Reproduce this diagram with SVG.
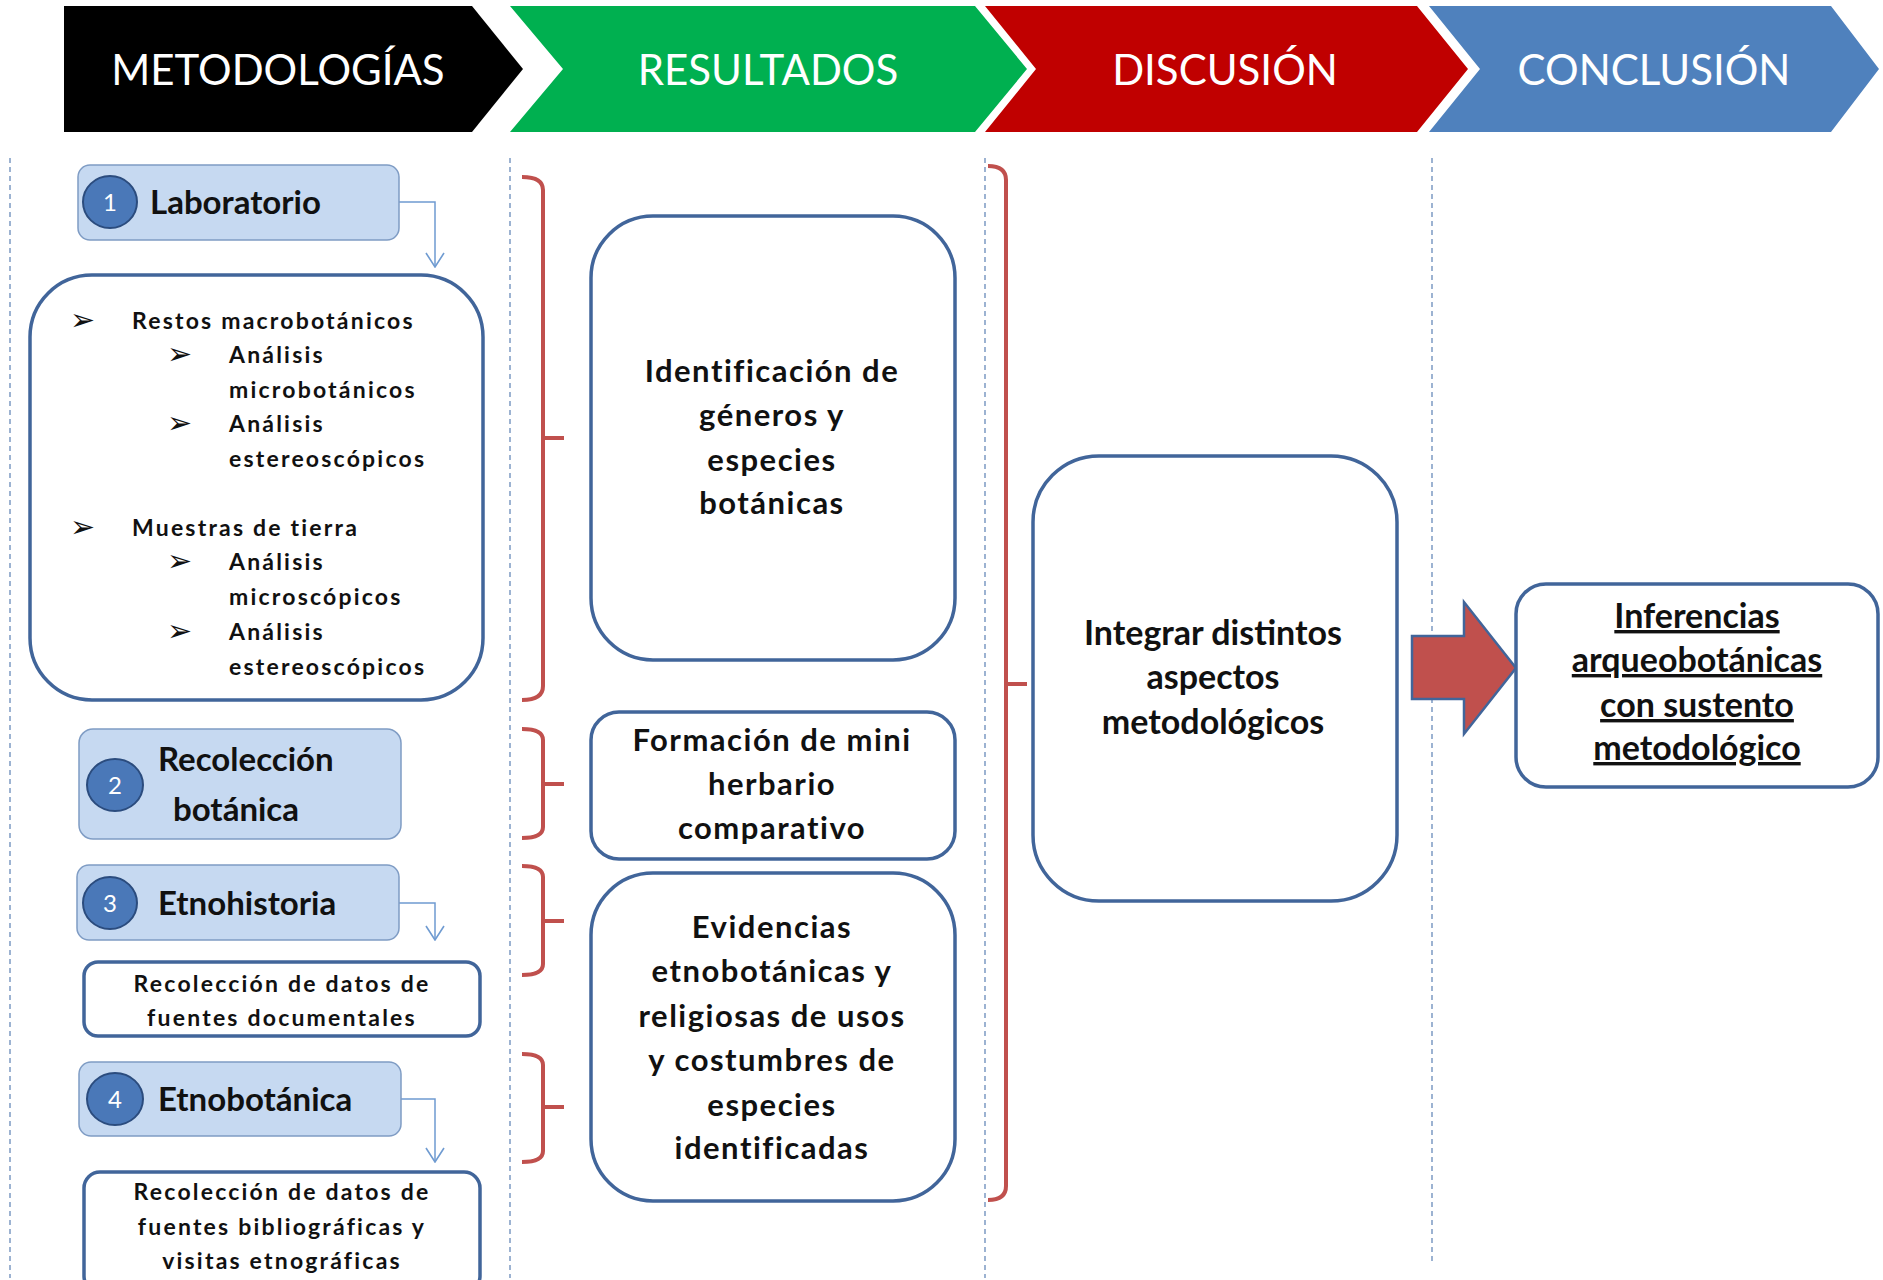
<svg xmlns="http://www.w3.org/2000/svg" width="1883" height="1280" viewBox="0 0 1883 1280">
<defs>
<style>
.hdr{font-family:Lato,"Open Sans",sans-serif;font-size:42px;fill:#fff;text-anchor:middle}
.num{font-family:Lato,sans-serif;font-size:24px;fill:#fff;text-anchor:middle}
.lbl{font-family:Lato,sans-serif;font-weight:700;font-size:33px;fill:#111}
.sm{font-family:Lato,sans-serif;font-weight:700;font-size:23px;fill:#111;letter-spacing:2.2px}
.smc{font-family:Lato,sans-serif;font-weight:700;font-size:23px;fill:#111;letter-spacing:2.2px;text-anchor:middle}
.mid{font-family:Lato,sans-serif;font-weight:700;font-size:31px;fill:#111;letter-spacing:1.5px;text-anchor:middle}
.dis{font-family:Lato,sans-serif;font-weight:700;font-size:34px;fill:#111;text-anchor:middle}
.con{font-family:Lato,sans-serif;font-weight:700;font-size:34px;fill:#111;text-anchor:middle;text-decoration:underline}
.bul{font-family:"DejaVu Sans",sans-serif;font-size:30px;fill:#111}
.pill{fill:#c6d9f1;stroke:#7f9cc4;stroke-width:1.5}
.circ{fill:#4a78b8;stroke:#2b4c7e;stroke-width:2}
.box{fill:#fff;stroke:#41659a;stroke-width:3.5}
.dash{stroke:#5b80b4;stroke-width:1.2;stroke-dasharray:5,4;fill:none}
.brk{fill:none;stroke:#c0504d;stroke-width:4}
.con-l{fill:none;stroke:#6f9bd1;stroke-width:1.5}
</style>
<marker id="open" viewBox="0 0 16 20" refX="15" refY="10" markerWidth="16" markerHeight="20" markerUnits="userSpaceOnUse" orient="auto">
<path d="M1,1 L15,10 L1,19" fill="none" stroke="#6f9bd1" stroke-width="1.6"/>
</marker>
</defs>
<rect width="1883" height="1280" fill="#fff"/>

<g id="header">
<g id="h-metodologias"><polygon points="64,6 472,6 523,69 472,132 64,132" fill="#000"/><text class="hdr" x="278" y="85">METODOLOGÍAS</text></g>
<g id="h-resultados"><polygon points="510,6 975,6 1027,69 975,132 510,132 563,69" fill="#00b050"/><text class="hdr" x="768" y="85">RESULTADOS</text></g>
<g id="h-discusion"><polygon points="985,6 1417,6 1468,69 1417,132 985,132 1036,69" fill="#c00000"/><text class="hdr" x="1225" y="85">DISCUSIÓN</text></g>
<g id="h-conclusion"><polygon points="1429,6 1831,6 1879,69 1831,132 1429,132 1480,69" fill="#4f81bd"/><text class="hdr" x="1654" y="85">CONCLUSIÓN</text></g>
</g>

<g id="dividers">
<line class="dash" x1="10" y1="158" x2="10" y2="1278"/>
<line class="dash" x1="510" y1="158" x2="510" y2="1278"/>
<line class="dash" x1="985" y1="158" x2="985" y2="1278"/>
<line class="dash" x1="1432" y1="158" x2="1432" y2="1262"/>
</g>

<g id="connectors">
<path class="con-l" d="M399,202 H435 V267" marker-end="url(#open)"/>
<path class="con-l" d="M399,903 H435 V940" marker-end="url(#open)"/>
<path class="con-l" d="M401,1099 H435 V1162" marker-end="url(#open)"/>
<path class="brk" d="M522,177 Q543,177 543,190 V686 Q543,700 522,700 M543,438 H564"/>
<path class="brk" d="M522,729 Q543,729 543,740 V827 Q543,838 522,838 M543,784 H564"/>
<path class="brk" d="M522,866 Q543,866 543,877 V964 Q543,975 522,975 M543,921 H564"/>
<path class="brk" d="M522,1054 Q543,1054 543,1065 V1151 Q543,1162 522,1162 M543,1107 H564"/>
<path class="brk" d="M988,166 Q1006,166 1006,180 V1186 Q1006,1200 988,1200 M1006,684 H1027"/>
<polygon id="big-arrow" points="1412,636 1464,636 1464,602 1516,668 1464,734 1464,699 1412,699" fill="#c0504d" stroke="#41659a" stroke-width="2.5"/>
</g>

<g id="n-laboratorio">
<rect class="pill" x="78" y="165" width="321" height="75" rx="12"/>
<ellipse class="circ" cx="110" cy="202" rx="27" ry="26"/>
<text class="num" x="110" y="211">1</text>
<text class="lbl" x="150" y="214">Laboratorio</text>
</g>

<g id="n-lab-detalle">
<rect class="box" x="30" y="275" width="453" height="425" rx="62"/>
<text class="bul" x="70" y="330">➢</text><text class="sm" x="132" y="329">Restos  macrobotánicos</text>
<text class="bul" x="167" y="364">➢</text><text class="sm" x="229" y="363">Análisis</text>
<text class="sm" x="229" y="398">microbotánicos</text>
<text class="bul" x="167" y="433">➢</text><text class="sm" x="229" y="432">Análisis</text>
<text class="sm" x="229" y="467">estereoscópicos</text>
<text class="bul" x="70" y="537">➢</text><text class="sm" x="132" y="536">Muestras  de tierra</text>
<text class="bul" x="167" y="571">➢</text><text class="sm" x="229" y="570">Análisis</text>
<text class="sm" x="229" y="605">microscópicos</text>
<text class="bul" x="167" y="641">➢</text><text class="sm" x="229" y="640">Análisis</text>
<text class="sm" x="229" y="675">estereoscópicos</text>
</g>

<g id="n-recoleccion">
<rect class="pill" x="79" y="729" width="322" height="110" rx="14"/>
<ellipse class="circ" cx="115" cy="785" rx="28" ry="26"/>
<text class="num" x="115" y="794">2</text>
<text class="lbl" x="158" y="771">Recolección</text>
<text class="lbl" x="173" y="821">botánica</text>
</g>

<g id="n-etnohistoria">
<rect class="pill" x="77" y="865" width="322" height="75" rx="12"/>
<ellipse class="circ" cx="110" cy="903" rx="27" ry="26"/>
<text class="num" x="110" y="912">3</text>
<text class="lbl" x="158" y="915">Etnohistoria</text>
</g>

<g id="n-documentales">
<rect class="box" x="84" y="962" width="396" height="74" rx="14"/>
<text class="smc" x="282" y="992">Recolección de datos de</text>
<text class="smc" x="282" y="1026">fuentes documentales</text>
</g>

<g id="n-etnobotanica">
<rect class="pill" x="79" y="1062" width="322" height="74" rx="12"/>
<ellipse class="circ" cx="115" cy="1099" rx="28" ry="26"/>
<text class="num" x="115" y="1108">4</text>
<text class="lbl" x="158" y="1111">Etnobotánica</text>
</g>

<g id="n-bibliograficas">
<rect class="box" x="84" y="1172" width="396" height="120" rx="16"/>
<text class="smc" x="282" y="1200">Recolección de datos de</text>
<text class="smc" x="282" y="1235">fuentes bibliográficas y</text>
<text class="smc" x="282" y="1269">visitas  etnográficas</text>
</g>

<g id="n-identificacion">
<rect class="box" x="591" y="216" width="364" height="444" rx="62"/>
<text class="mid" x="772" y="382">Identificación de</text>
<text class="mid" x="772" y="426">géneros y</text>
<text class="mid" x="772" y="471">especies</text>
<text class="mid" x="772" y="514">botánicas</text>
</g>

<g id="n-herbario">
<rect class="box" x="591" y="712" width="364" height="147" rx="28"/>
<text class="mid" x="772" y="751">Formación de mini</text>
<text class="mid" x="772" y="795">herbario</text>
<text class="mid" x="772" y="839">comparativo</text>
</g>

<g id="n-evidencias">
<rect class="box" x="591" y="873" width="364" height="328" rx="62"/>
<text class="mid" x="772" y="938">Evidencias</text>
<text class="mid" x="772" y="982">etnobotánicas y</text>
<text class="mid" x="772" y="1027">religiosas de usos</text>
<text class="mid" x="772" y="1071">y costumbres de</text>
<text class="mid" x="772" y="1116">especies</text>
<text class="mid" x="772" y="1159">identificadas</text>
</g>

<g id="n-integrar">
<rect class="box" x="1033" y="456" width="364" height="445" rx="66"/>
<text class="dis" x="1213" y="645">Integrar distintos</text>
<text class="dis" x="1213" y="689">aspectos</text>
<text class="dis" x="1213" y="734">metodológicos</text>
</g>

<g id="n-inferencias">
<rect class="box" x="1516" y="584" width="362" height="203" rx="30"/>
<text class="con" x="1697" y="628">Inferencias</text>
<text class="con" x="1697" y="672">arqueobotánicas</text>
<text class="con" x="1697" y="717">con sustento</text>
<text class="con" x="1697" y="760">metodológico</text>
</g>
</svg>
